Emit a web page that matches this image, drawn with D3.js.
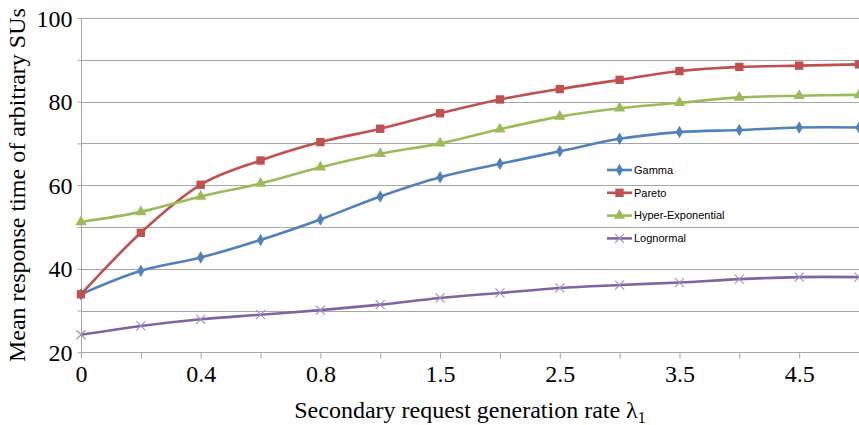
<!DOCTYPE html>
<html>
<head>
<meta charset="utf-8">
<script src="https://cdn.jsdelivr.net/npm/d3@7"></script>
<style>
  body { margin: 0; background: #fff; }
  svg { display: block; }
  .tick text { font-family: "Liberation Serif", "Times New Roman", serif; fill: #000; }
</style>
</head>
<body>
<div id="chart"></div>
<script>
// x categories (secondary request generation rate)
var categories = ["0", "0.2", "0.4", "0.6", "0.8", "1", "1.5", "2", "2.5", "3", "3.5", "4", "4.5", "5"];
var yTicks = [20, 30, 40, 50, 60, 70, 80, 90, 100];

var seriesNames = ["Gamma", "Pareto", "Hyper-Exponential", "Lognormal"];
var gamma     = [33.9, 39.5, 42.7, 46.9, 51.8, 57.3, 61.9, 65.1, 68.1, 71.1, 72.7, 73.2, 73.8, 73.8];
var pareto    = [33.9, 48.6, 60.1, 65.9, 70.3, 73.5, 77.2, 80.5, 83.0, 85.2, 87.3, 88.3, 88.6, 88.9];
var hyperExp  = [51.2, 53.6, 57.3, 60.4, 64.3, 67.5, 70.0, 73.4, 76.4, 78.4, 79.7, 81.0, 81.4, 81.6];
var lognormal = [24.2, 26.3, 27.9, 29.0, 30.1, 31.4, 33.0, 34.2, 35.4, 36.1, 36.7, 37.5, 38.0, 38.0];

var colors = ["#4f81bd", "#c0504d", "#9bbb59", "#8064a2"];
var symbols = [d3.symbolDiamond, d3.symbolSquare, d3.symbolTriangle, d3.symbolCross];

var series = [gamma, pareto, hyperExp, lognormal].map(function(vals, i) {
    return { name: seriesNames[i], values: vals, color: colors[i], symbol: symbols[i] };
});

var width = 859, height = 425;
var margin = { top: 18, right: 0, bottom: 72, left: 81 };

var svg = d3.select("#chart").append("svg")
    .attr("width", width)
    .attr("height", height);

var x = d3.scalePoint()
    .domain(d3.range(categories.length))
    .range([margin.left, width - margin.right]);

var y = d3.scaleLinear()
    .domain([20, 100])
    .range([height - margin.bottom - 0.7, margin.top]);

var plotBottom = y(20);

// gridlines
svg.append("g")
    .selectAll("line")
    .data(yTicks)
    .enter().append("line")
    .attr("x1", margin.left)
    .attr("x2", width)
    .attr("y1", function(d) { return Math.round(y(d)) + 0.5; })
    .attr("y2", function(d) { return Math.round(y(d)) + 0.5; })
    .style("stroke", "#a6a6a6")
    .style("stroke-width", 1);

// y axis
var yAxis = svg.append("g")
    .attr("transform", "translate(" + (margin.left + 0.5) + ",0)")
    .call(d3.axisLeft(y).tickValues(yTicks).tickSize(4).tickPadding(5)
        .tickFormat(function(d) { return d % 20 === 0 ? d : ""; }));
yAxis.selectAll("text").style("font-size", "24px").attr("dy", "0.34em");
yAxis.selectAll("line, path").style("stroke", "#a6a6a6");
yAxis.select(".domain").attr("d", "M0," + y(100) + "V" + plotBottom);

// x axis
var xAxis = svg.append("g")
    .attr("transform", "translate(0," + (Math.round(plotBottom) + 0.5) + ")")
    .call(d3.axisBottom(x).tickSize(6).tickPadding(6)
        .tickFormat(function(i) { return i % 2 === 0 ? categories[i] : ""; }));
xAxis.selectAll("text").style("font-size", "24px");
xAxis.selectAll("line, path").style("stroke", "#a6a6a6");
xAxis.select(".domain").attr("d", "M" + margin.left + ",0H" + width);

// lines
var line = d3.line()
    .x(function(d, i) { return x(i); })
    .y(function(d) { return y(d); })
    .curve(d3.curveCatmullRom.alpha(0));

var sg = svg.selectAll(".series")
    .data(series)
    .enter().append("g")
    .attr("class", "series");

sg.append("path")
    .attr("d", function(d) { return line(d.values); })
    .style("fill", "none")
    .style("stroke", function(d) { return d.color; })
    .style("stroke-width", 2.6);

sg.each(function(s) {
    var g = d3.select(this);
    if (s.name === "Lognormal") {
        // x-shaped marker
        g.selectAll("path.mk")
            .data(s.values)
            .enter().append("path")
            .attr("class", "mk")
            .attr("transform", function(d, i) { return "translate(" + x(i) + "," + y(d) + ") rotate(45)"; })
            .attr("d", d3.symbol().type(d3.symbolCross).size(60))
            .style("fill", "none")
            .style("stroke", "#b3a2c7")
            .style("stroke-width", 1);
        g.selectAll("path.mk2")
            .data(s.values)
            .enter().append("path")
            .attr("transform", function(d, i) { return "translate(" + x(i) + "," + y(d) + ")"; })
            .attr("d", "M-4.5,-4.5L4.5,4.5M-4.5,4.5L4.5,-4.5")
            .style("stroke", "#a08cc0")
            .style("stroke-width", 1.1);
    } else {
        var size = s.name === "Gamma" ? 45 : (s.name === "Pareto" ? 70 : 55);
        g.selectAll("path.mk")
            .data(s.values)
            .enter().append("path")
            .attr("class", "mk")
            .attr("transform", function(d, i) { return "translate(" + x(i) + "," + y(d) + ")"; })
            .attr("d", d3.symbol().type(s.symbol).size(size))
            .style("fill", s.color);
    }
});
sg.filter(function(d) { return d.name === "Lognormal"; }).selectAll("path.mk").remove();

// legend
var legend = svg.selectAll(".legend")
    .data(series)
    .enter().append("g")
    .attr("class", "legend")
    .attr("transform", function(d, i) { return "translate(607," + (170 + i * 22.8) + ")"; });

legend.append("line")
    .attr("x1", 0).attr("x2", 25)
    .style("stroke", function(d) { return d.color; })
    .style("stroke-width", 2.6);

legend.append("path")
    .attr("transform", "translate(12.5,0)")
    .attr("d", function(d) {
        if (d.name === "Lognormal") return "M-4.5,-4.5L4.5,4.5M-4.5,4.5L4.5,-4.5";
        var size = d.name === "Gamma" ? 45 : (d.name === "Pareto" ? 70 : 55);
        return d3.symbol().type(d.symbol).size(size)();
    })
    .style("fill", function(d) { return d.name === "Lognormal" ? "none" : d.color; })
    .style("stroke", function(d) { return d.name === "Lognormal" ? "#a08cc0" : "none"; })
    .style("stroke-width", 1.1);

legend.append("text")
    .attr("x", 27)
    .attr("dy", "0.35em")
    .style("font-family", "'Liberation Sans', Arial, sans-serif")
    .style("font-size", "11px")
    .style("fill", "#000")
    .text(function(d) { return d.name; });

// y axis title
svg.append("text")
    .attr("transform", "translate(25," + ((margin.top + plotBottom) / 2) + ") rotate(-90)")
    .attr("text-anchor", "middle")
    .style("font-family", "'Liberation Serif', 'Times New Roman', serif")
    .style("font-size", "24px")
    .style("fill", "#000")
    .text("Mean response time of arbitrary SUs");

// x axis title
var xt = svg.append("text")
    .attr("x", (margin.left + width) / 2)
    .attr("y", 418)
    .attr("text-anchor", "middle")
    .style("font-family", "'Liberation Serif', 'Times New Roman', serif")
    .style("font-size", "24px")
    .style("fill", "#000");
xt.append("tspan").text("Secondary request generation rate \u03bb");
xt.append("tspan").attr("dy", "5").style("font-size", "16px").text("1");
</script>
</body>
</html>
